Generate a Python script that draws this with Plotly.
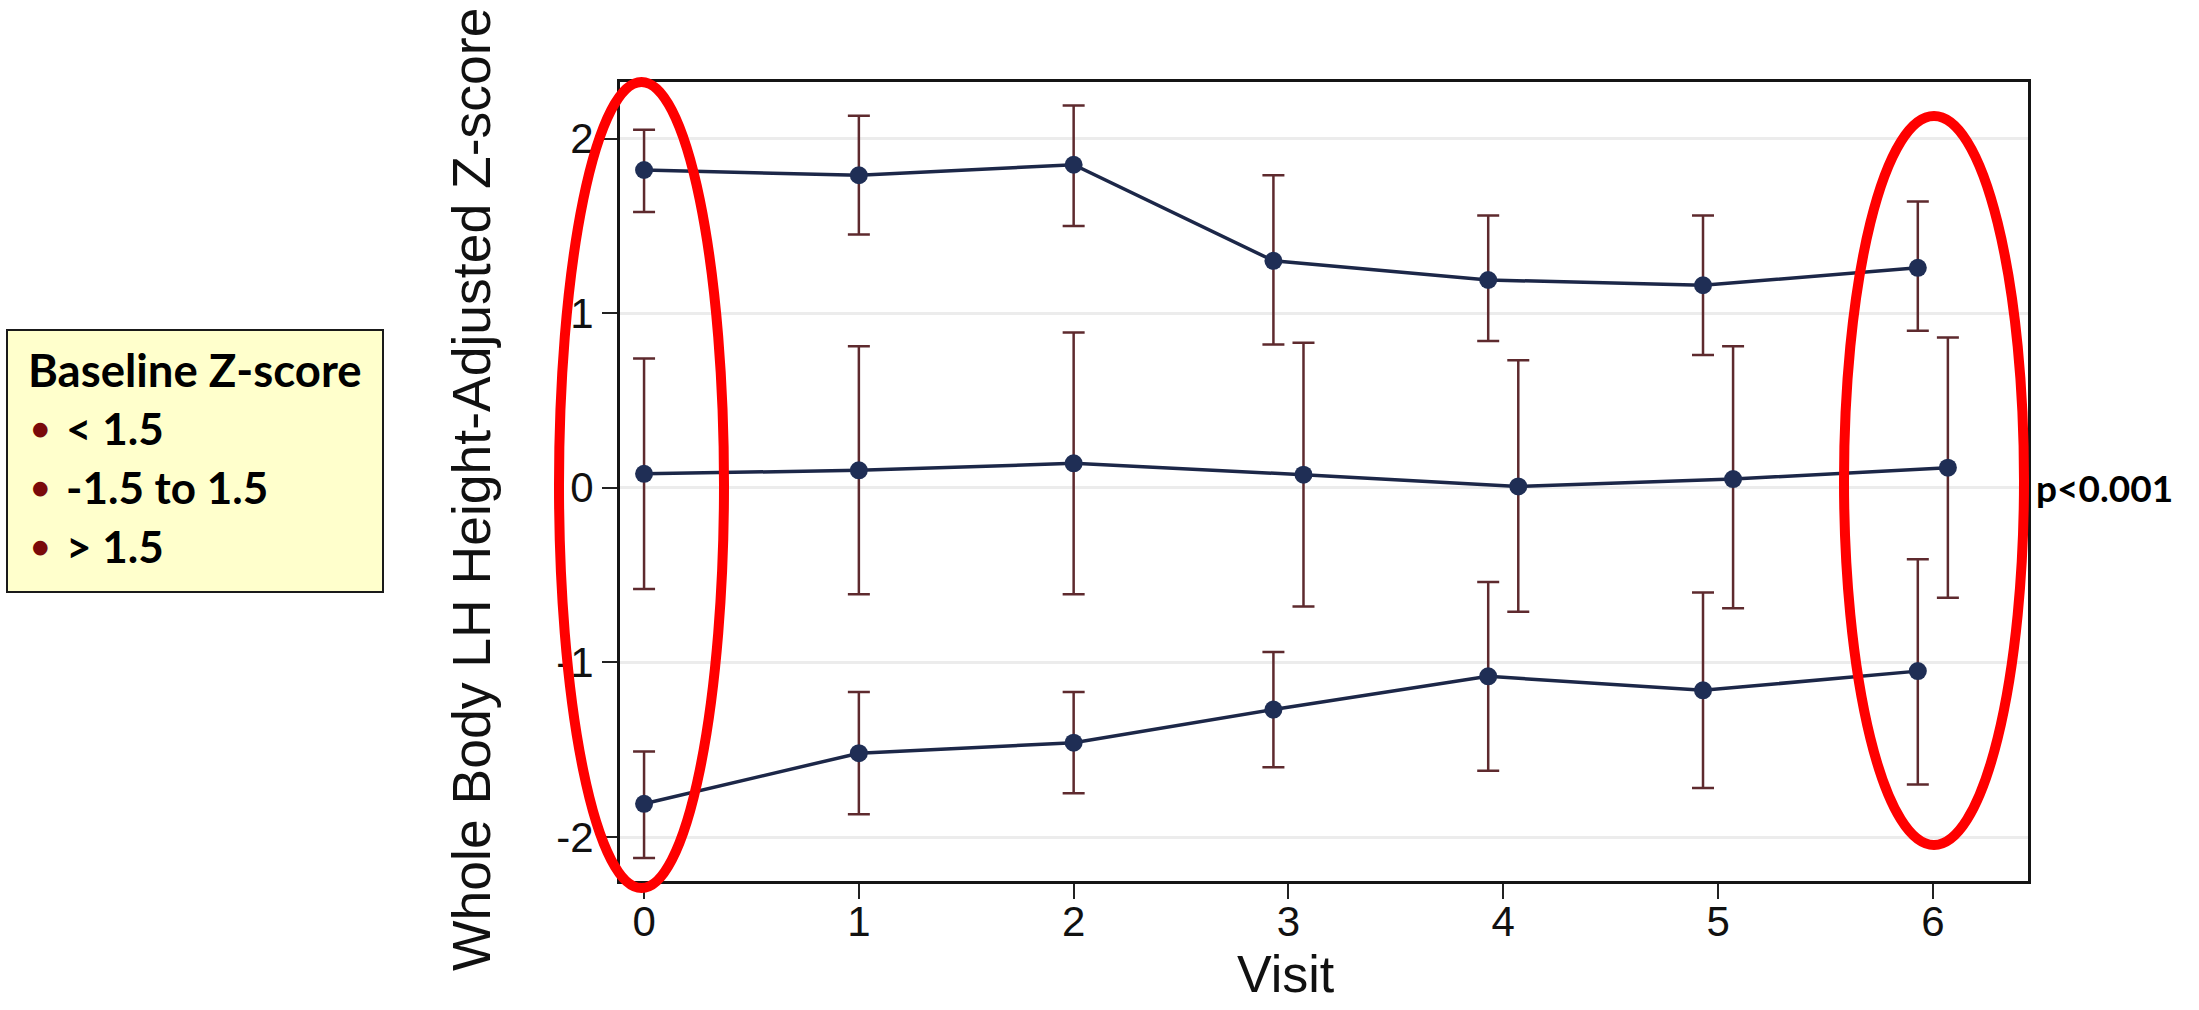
import html
import plotly.graph_objects as go

# ---------------- data ----------------
visits = [0, 1, 2, 3, 4, 5, 6]
dodge_outer = [0, 0, 0, -0.07, -0.07, -0.07, -0.07]
dodge_middle = [0, 0, 0, 0.07, 0.07, 0.07, 0.07]

high_mean = [1.82, 1.79, 1.85, 1.30, 1.19, 1.16, 1.26]
high_upper = [2.05, 2.13, 2.19, 1.79, 1.56, 1.56, 1.64]
high_lower = [1.58, 1.45, 1.50, 0.82, 0.84, 0.76, 0.90]

mid_mean = [0.08, 0.10, 0.14, 0.075, 0.008, 0.05, 0.115]
mid_upper = [0.74, 0.81, 0.89, 0.83, 0.73, 0.81, 0.86]
mid_lower = [-0.58, -0.61, -0.61, -0.68, -0.71, -0.69, -0.63]

low_mean = [-1.81, -1.52, -1.46, -1.27, -1.08, -1.16, -1.05]
low_upper = [-1.51, -1.17, -1.17, -0.94, -0.54, -0.60, -0.41]
low_lower = [-2.12, -1.87, -1.75, -1.60, -1.62, -1.72, -1.70]

y_ticks = [-2, -1, 0, 1, 2]
legend_title = "Baseline Z-score"
legend_labels = ["< 1.5", "-1.5 to 1.5", "> 1.5"]
p_label = "p<0.001"
x_title = "Visit"
y_title = "Whole Body LH Height-Adjusted Z-score"

# ---------------- style ----------------
W, H = 2199, 1010
L, R, T, B = 620, 2028, 82, 881          # plot area in pixels
PW, PH = R - L, B - T

LINE_C = "#1c2748"
MARK_C = "#1f2e55"
ERR_C = "#5e2a2e"
AX_FONT = "Liberation Sans, Arial, sans-serif"
SLIDE_FONT = "Lato, Calibri, sans-serif"


def px(x):
    return (x - L) / PW


def py(y):
    return (B - y) / PH


fig = go.Figure()

series = [
    ("> 1.5", high_mean, high_upper, high_lower, dodge_outer),
    ("-1.5 to 1.5", mid_mean, mid_upper, mid_lower, dodge_middle),
    ("< 1.5", low_mean, low_upper, low_lower, dodge_outer),
]
for name, mean, up, lo, dodge in series:
    xs = [v + d for v, d in zip(visits, dodge)]
    fig.add_trace(go.Scatter(
        x=xs, y=mean, name=name, mode="lines+markers",
        line=dict(color=LINE_C, width=3.5),
        marker=dict(color=MARK_C, size=18),
        error_y=dict(type="data", symmetric=False,
                     array=[u - m for u, m in zip(up, mean)],
                     arrayminus=[m - l for m, l in zip(mean, lo)],
                     color=ERR_C, thickness=2.5, width=11),
        showlegend=False,
    ))

fig.update_xaxes(
    range=[-0.112, 6.443], tickmode="array", tickvals=visits,
    ticktext=[str(v) for v in visits],
    ticks="outside", ticklen=15, tickwidth=2, tickcolor="#222",
    ticklabelstandoff=-13,
    showgrid=False, zeroline=False,
    showline=True, linecolor="#151515", linewidth=3, mirror=True,
    tickfont=dict(family=AX_FONT, size=42, color="#111"),
)
fig.update_yaxes(
    range=[-2.252, 2.324], tickmode="array", tickvals=y_ticks,
    ticktext=[str(v) for v in y_ticks],
    ticks="outside", ticklen=15, tickwidth=2, tickcolor="#222",
    showgrid=True, gridcolor="#ececec", gridwidth=3, zeroline=False,
    showline=True, linecolor="#151515", linewidth=3, mirror=True,
    tickfont=dict(family=AX_FONT, size=42, color="#111"),
)

annotations = [
    dict(text=html.escape(x_title), xref="paper", yref="paper",
         x=px(1286), y=py(974), xanchor="center", yanchor="middle",
         showarrow=False, font=dict(family=AX_FONT, size=52, color="#111")),
    dict(text=html.escape(y_title), xref="paper", yref="paper",
         x=px(471), y=py(490), xanchor="center", yanchor="middle",
         textangle=-90, showarrow=False,
         font=dict(family=AX_FONT, size=53.5, color="#111")),
    dict(text="<b>" + html.escape(p_label) + "</b>", xref="paper", yref="y",
         x=px(2034), y=0, xanchor="left", yanchor="middle",
         showarrow=False, font=dict(family=SLIDE_FONT, size=37, color="#000")),
    dict(text="<b>" + html.escape(legend_title) + "</b>", xref="paper", yref="paper",
         x=px(26), y=py(369), xanchor="left", yanchor="middle",
         showarrow=False, font=dict(family=SLIDE_FONT, size=45.5, color="#000")),
]
for i, lab in enumerate(legend_labels):
    yc = 428 + i * 59
    annotations.append(dict(text="\u25cf", xref="paper", yref="paper",
                            x=px(40), y=py(yc), xanchor="center", yanchor="middle",
                            showarrow=False,
                            font=dict(family="DejaVu Sans", size=19, color="#7a0a0a")))
    annotations.append(dict(text="<b>" + html.escape(lab) + "</b>", xref="paper", yref="paper",
                            x=px(64), y=py(yc), xanchor="left", yanchor="middle",
                            showarrow=False,
                            font=dict(family=SLIDE_FONT, size=44, color="#000")))

shapes = [
    # legend box
    dict(type="rect", xref="paper", yref="paper",
         x0=px(7), x1=px(383), y0=py(592), y1=py(330),
         fillcolor="#ffffcc", line=dict(color="#1a1a1a", width=2), layer="above"),
    # highlight ellipses around visit 0 and visit 6
    dict(type="circle", xref="paper", yref="paper",
         x0=px(559), x1=px(724), y0=py(888), y1=py(82),
         line=dict(color="#ff0000", width=10), layer="above"),
    dict(type="circle", xref="paper", yref="paper",
         x0=px(1844), x1=px(2024), y0=py(845), y1=py(116),
         line=dict(color="#ff0000", width=10), layer="above"),
]

fig.update_layout(
    width=W, height=H, autosize=False,
    margin=dict(l=L, r=W - R, t=T, b=H - B, pad=0),
    paper_bgcolor="white", plot_bgcolor="white",
    annotations=annotations, shapes=shapes,
    showlegend=False,
)

fig.write_html("out.html", config={"displayModeBar": False},
               post_script="document.body.style.margin='0';")
